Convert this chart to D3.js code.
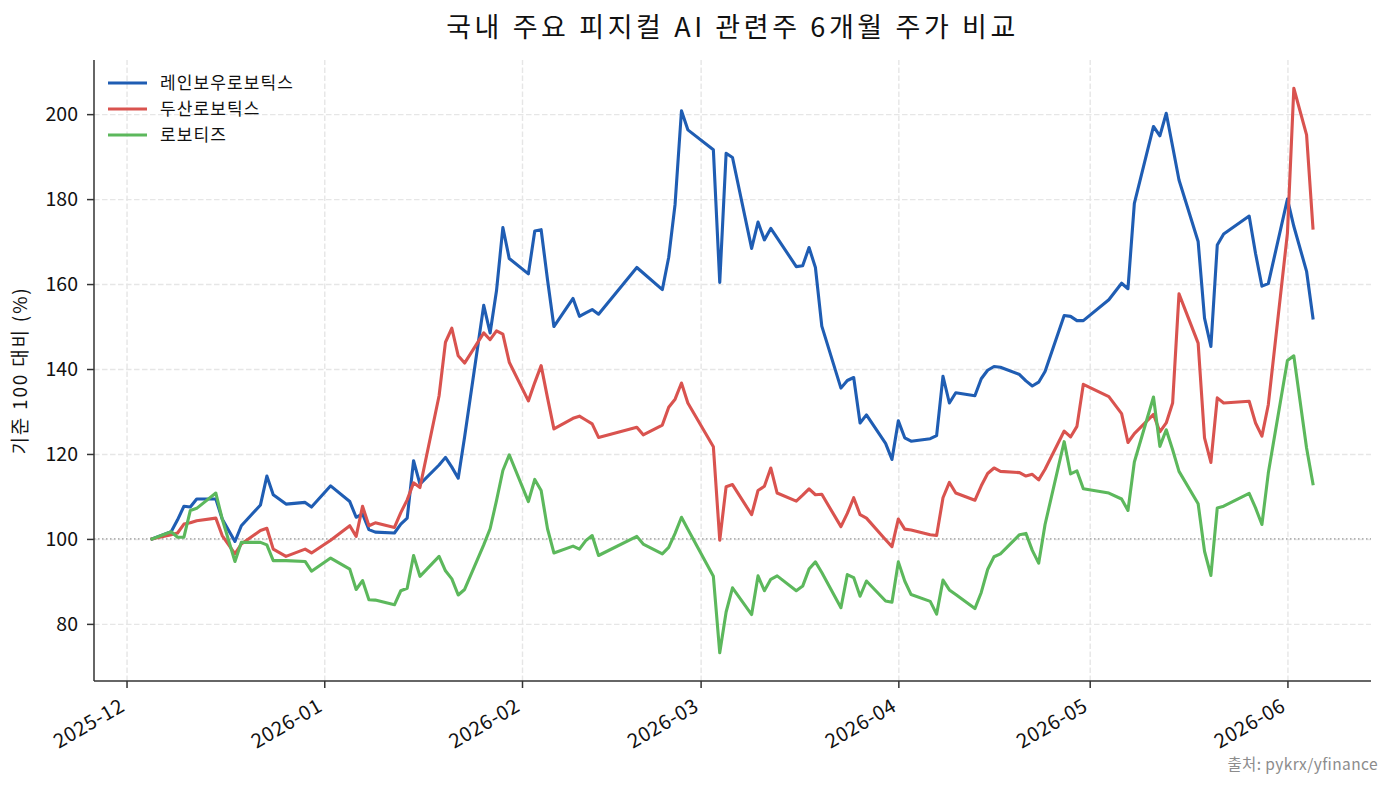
<!DOCTYPE html>
<html>
<head>
<meta charset="utf-8">
<script src="https://cdn.jsdelivr.net/npm/d3@7"></script>
<style>
  html, body { margin: 0; padding: 0; background: #fff; }
  svg { display: block; }
  text { font-family: "Noto Sans CJK KR", "Noto Sans", sans-serif; }
</style>
</head>
<body>
<svg id="chart" width="1393" height="786"></svg>
<script>
// ---------------- data ----------------
const dates = [
  "2025-12-05","2025-12-08","2025-12-09","2025-12-10","2025-12-11","2025-12-12","2025-12-15","2025-12-16","2025-12-18","2025-12-19","2025-12-22","2025-12-23","2025-12-24","2025-12-26","2025-12-29","2025-12-30",
  "2026-01-02","2026-01-05","2026-01-06","2026-01-07","2026-01-08","2026-01-09","2026-01-12","2026-01-13","2026-01-14","2026-01-15","2026-01-16","2026-01-19","2026-01-20","2026-01-21","2026-01-22","2026-01-23","2026-01-26","2026-01-27","2026-01-28","2026-01-29","2026-01-30",
  "2026-02-02","2026-02-03","2026-02-04","2026-02-05","2026-02-06","2026-02-09","2026-02-10","2026-02-11","2026-02-12","2026-02-13","2026-02-19","2026-02-20","2026-02-23","2026-02-24","2026-02-25","2026-02-26","2026-02-27",
  "2026-03-03","2026-03-04","2026-03-05","2026-03-06","2026-03-09","2026-03-10","2026-03-11","2026-03-12","2026-03-13","2026-03-16","2026-03-17","2026-03-18","2026-03-19","2026-03-20","2026-03-23","2026-03-24","2026-03-25","2026-03-26","2026-03-27","2026-03-30","2026-03-31",
  "2026-04-01","2026-04-02","2026-04-03","2026-04-06","2026-04-07","2026-04-08","2026-04-09","2026-04-10","2026-04-13","2026-04-14","2026-04-15","2026-04-16","2026-04-17","2026-04-20","2026-04-21","2026-04-22","2026-04-23","2026-04-24","2026-04-27","2026-04-28","2026-04-29","2026-04-30",
  "2026-05-04","2026-05-06","2026-05-07","2026-05-08","2026-05-11","2026-05-12","2026-05-13","2026-05-14","2026-05-15","2026-05-18","2026-05-19","2026-05-20","2026-05-21","2026-05-22","2026-05-26","2026-05-27","2026-05-28","2026-05-29",
  "2026-06-01","2026-06-02","2026-06-04","2026-06-05"
];

// 레인보우로보틱스
const rainbowValues = [
  100, 101.7, 104.5, 107.7, 107.5, 109.4, 109.4, 104.7, 99.4, 103.1, 108, 114.8, 110.4, 108.2, 108.6, 107.5,
  112.5, 108.8, 105.1, 105.9, 102.2, 101.6, 101.4, 103.5, 104.9, 118.4, 112.9, 117.4, 119.2, 116.9, 114.3, 124, 155, 148.5, 158.4, 173.3, 166,
  162.4, 172.5, 172.8, 161, 150, 156.6, 152.4, 153.2, 154, 152.9, 163.9, 162.6, 158.7, 166.3, 178.8, 200.8, 196.3,
  191.6, 160.4, 190.8, 189.8, 168.4, 174.6, 170.4, 173.1, 170.9, 164.1, 164.3, 168.6, 163.9, 150.1, 135.5, 137.3, 138, 127.3, 129.2, 122.5, 118.7,
  127.8, 123.8, 123, 123.6, 124.3, 138.3, 132, 134.4, 133.7, 137.7, 139.7, 140.6, 140.4, 138.7, 137.2, 136, 136.9, 139.4, 152.6, 152.4, 151.4, 151.4,
  156.3, 160.2, 158.9, 179, 197.1, 194.9, 200.2, 192.4, 184.5, 170, 152, 145.3, 169.2, 171.8, 176, 167.2, 159.5, 160.1,
  180, 173.6, 163, 152
];

// 두산로보틱스
const doosanValues = [
  100, 101, 101.4, 103.5, 103.8, 104.3, 104.9, 100.8, 96.5, 98.8, 102, 102.5, 97.6, 95.9, 97.6, 96.7,
  99.7, 103.1, 100.6, 107.7, 103.1, 103.8, 102.7, 106.2, 109.2, 113.2, 112.1, 133.7, 146.3, 149.6, 143.1, 141.4, 148.5, 146.9, 149, 148.2, 141.6,
  132.5, 136.8, 140.8, 133.2, 125.9, 128.4, 128.9, 128, 127.1, 123.9, 126.3, 124.5, 126.8, 131, 132.9, 136.7, 132,
  121.7, 99.7, 112.3, 112.8, 105.7, 111.4, 112.4, 116.7, 110.8, 108.9, 110.3, 111.8, 110.4, 110.5, 102.9, 106, 109.7, 105.7, 104.9, 99.8, 98.2,
  104.7, 102.3, 102.1, 101, 100.8, 109.7, 113.3, 110.8, 109.1, 112.5, 115.4, 116.7, 115.9, 115.6, 114.8, 115.2, 113.9, 116.4, 125.4, 124, 126.5, 136.4,
  133.5, 129.5, 122.7, 124.8, 129.3, 125.2, 127.3, 132, 157.7, 146.1, 123.8, 118, 133.2, 132, 132.4, 127.3, 124.2, 131.6,
  172, 206.1, 195.1, 173.2
];

// 로보티즈
const robotisValues = [
  100, 101.7, 100.4, 100.4, 106.7, 107.2, 110.8, 104.7, 94.7, 99.2, 99.2, 98.6, 94.9, 94.9, 94.7, 92.4,
  95.5, 92.9, 88.1, 90.2, 85.7, 85.6, 84.5, 87.8, 88.4, 96.1, 91.2, 95.9, 92.5, 90.6, 86.8, 88.1, 98.6, 102.4, 109, 116.1, 119.8,
  108.8, 114, 111.4, 102.4, 96.7, 98.3, 97.6, 99.6, 100.8, 96.1, 100.6, 98.8, 96.5, 98, 101.3, 105.1, 102.3,
  91.2, 73.2, 82.8, 88.5, 82.2, 91.3, 87.8, 90.5, 91.3, 87.8, 88.9, 92.9, 94.6, 92.1, 83.8, 91.6, 90.9, 86.5, 90.1, 85.4, 85.1,
  94.6, 90.1, 86.9, 85.3, 82.3, 90.3, 88, 86.9, 83.6, 87.4, 92.8, 95.8, 96.5, 101, 101.3, 97.3, 94.3, 103.4, 122.9, 115.3, 116, 111.8,
  110.8, 109.4, 106.7, 118.1, 133.4, 121.8, 125.7, 121, 115.9, 108.3, 97.1, 91.4, 107.3, 107.7, 110.7, 107.3, 103.4, 115.5,
  142, 143.1, 121.4, 113
];

const seriesNames = ["레인보우로보틱스", "두산로보틱스", "로보티즈"];
const seriesColors = ["#1f5db3", "#d9534f", "#5cb85c"];
const yTickValues = [80, 100, 120, 140, 160, 180, 200];
const titleText = "국내 주요 피지컬 AI 관련주 6개월 주가 비교";
const yLabelText = "기준 100 대비 (%)";
const sourceText = "출처: pykrx/yfinance";
const baseline = 100;

// ---------------- layout ----------------
const W = 1393, H = 786;
const plot = { left: 94, right: 1371, top: 60, bottom: 681 };

const parse = d3.timeParse("%Y-%m-%d");
const dateObjs = dates.map(parse);
const allSeries = [rainbowValues, doosanValues, robotisValues].map((vals, i) => ({
  name: seriesNames[i],
  color: seriesColors[i],
  points: vals.map((v, j) => ({ date: dateObjs[j], value: v }))
}));

// matplotlib-like 5% margins
const [dMin, dMax] = d3.extent(dateObjs);
const dSpan = dMax - dMin;
const x = d3.scaleTime()
  .domain([new Date(+dMin - dSpan * 0.05), new Date(+dMax + dSpan * 0.05)])
  .range([plot.left, plot.right]);

const allVals = [].concat(rainbowValues, doosanValues, robotisValues);
const [vMin, vMax] = d3.extent(allVals);
const vSpan = vMax - vMin;
const y = d3.scaleLinear()
  .domain([vMin - vSpan * 0.05, vMax + vSpan * 0.05])
  .range([plot.bottom, plot.top]);

const svg = d3.select("#chart");
svg.append("rect").attr("width", W).attr("height", H).attr("fill", "#fff");

const monthTicks = d3.timeMonth.range(d3.timeMonth.ceil(x.domain()[0]), x.domain()[1]);

// grid
const gridColor = "#e6e6e6";
svg.append("g")
  .attr("transform", `translate(0,${plot.bottom})`)
  .call(d3.axisBottom(x).tickValues(monthTicks).tickSize(-(plot.bottom - plot.top)).tickFormat(""))
  .call(g => g.select(".domain").remove())
  .call(g => g.selectAll("line").attr("stroke", gridColor).attr("stroke-width", 1.4).attr("stroke-dasharray", "5.5,2.5"));

svg.append("g")
  .attr("transform", `translate(${plot.left},0)`)
  .call(d3.axisLeft(y).tickValues(yTickValues).tickSize(-(plot.right - plot.left)).tickFormat(""))
  .call(g => g.select(".domain").remove())
  .call(g => g.selectAll("line").attr("stroke", gridColor).attr("stroke-width", 1.4).attr("stroke-dasharray", "5.5,2.5"));

// baseline 100
svg.append("line")
  .attr("x1", plot.left).attr("x2", plot.right)
  .attr("y1", y(baseline)).attr("y2", y(baseline))
  .attr("stroke", "#9a9a9a").attr("stroke-width", 1.3)
  .attr("stroke-dasharray", "1.5,2.5");

// lines
const line = d3.line().x(d => x(d.date)).y(d => y(d.value));
svg.append("g").selectAll("path")
  .data(allSeries)
  .join("path")
  .attr("d", d => line(d.points))
  .attr("fill", "none")
  .attr("stroke", d => d.color)
  .attr("stroke-width", 3.1)
  .attr("stroke-linejoin", "round")
  .attr("stroke-linecap", "square");

// axes
const axisColor = "#333";
const tickFont = "DejaVu Sans";
const xAxis = svg.append("g")
  .attr("transform", `translate(0,${plot.bottom})`)
  .call(d3.axisBottom(x).tickValues(monthTicks).tickSize(7).tickPadding(0).tickFormat(d3.timeFormat("%Y-%m")));
xAxis.select(".domain").attr("stroke", axisColor).attr("stroke-width", 1.5).attr("d", `M${plot.left},0H${plot.right}`);
xAxis.selectAll(".tick line").attr("stroke", axisColor).attr("stroke-width", 1.5);
xAxis.selectAll(".tick text")
  .attr("font-family", tickFont)
  .attr("font-size", 20)
  .attr("letter-spacing", 0.6)
  .attr("fill", "#111")
  .attr("text-anchor", "end")
  .attr("x", -1).attr("y", 29).attr("dy", 0)
  .attr("transform", "rotate(-30,-1,29)");

const yAxis = svg.append("g")
  .attr("transform", `translate(${plot.left},0)`)
  .call(d3.axisLeft(y).tickValues(yTickValues).tickSize(7).tickPadding(9));
yAxis.select(".domain").attr("stroke", axisColor).attr("stroke-width", 1.5).attr("d", `M0,${plot.top}V${plot.bottom}`);
yAxis.selectAll(".tick line").attr("stroke", axisColor).attr("stroke-width", 1.5);
yAxis.selectAll(".tick text")
  .attr("font-family", tickFont)
  .attr("font-size", 19.5)
  .attr("fill", "#111");

// title
svg.append("text")
  .attr("x", (plot.left + plot.right) / 2).attr("y", 37)
  .attr("text-anchor", "middle")
  .attr("font-size", 27)
  .attr("letter-spacing", 3.6)
  .attr("fill", "#111")
  .text(titleText);

// y label
svg.append("text")
  .attr("transform", `translate(27,${(plot.top + plot.bottom) / 2}) rotate(-90)`)
  .attr("text-anchor", "middle")
  .attr("font-size", 19)
  .attr("letter-spacing", 1.8)
  .attr("fill", "#111")
  .text(yLabelText);

// legend
const legend = svg.append("g");
allSeries.forEach((s, i) => {
  const ly = 83 + i * 26;
  legend.append("line")
    .attr("x1", 108).attr("x2", 147)
    .attr("y1", ly).attr("y2", ly)
    .attr("stroke", s.color).attr("stroke-width", 3.1);
  legend.append("text")
    .attr("x", 160).attr("y", ly + 6)
    .attr("font-size", 17)
    .attr("letter-spacing", 1.1)
    .attr("fill", "#111")
    .text(s.name);
});

// source
svg.append("text")
  .attr("x", 1378).attr("y", 770)
  .attr("text-anchor", "end")
  .attr("font-size", 15.5)
  .attr("letter-spacing", 0.4)
  .attr("fill", "#8c8c8c")
  .text(sourceText);
</script>
</body>
</html>
